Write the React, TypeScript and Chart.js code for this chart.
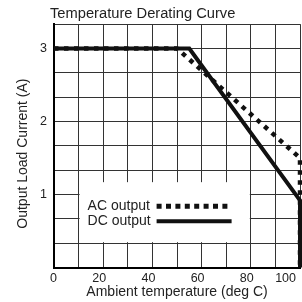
import React, { useEffect, useRef } from 'react';
import { Chart, registerables } from 'chart.js';

Chart.register(...registerables);

// ---- data ----
const chartTitle = 'Temperature Derating Curve';
const xTitle = 'Ambient temperature (deg C)';
const yTitle = 'Output Load Current (A)';

const acLabel = 'AC output';
const acTemp = [0, 50, 100, 100];
const acCurrent = [3, 3, 1.5, 0];

const dcLabel = 'DC output';
const dcTemp = [0, 55, 100, 100];
const dcCurrent = [3, 3, 0.92, 0];

const xMin = 0;
const xMax = 100;
const xGridStep = 10;
const xTickLabels = ['0', '20', '40', '60', '80', '100'];

const yMin = 0;
const yMax = 10 / 3;
const yGridStep = 1 / 3;
const yTickLabels = ['1', '2', '3'];

const FONT = "'Liberation Sans', Arial, sans-serif";
const INK = '#222';

const legendBox = {
  id: 'legendBox',
  afterLayout(chart: any) {
    const t = chart.titleBlock;
    if (t) {
      t.left -= 4;
      t.right -= 4;
    }
  },
  afterDatasetsDraw(chart: any) {
    const { ctx } = chart;
    const xs = chart.scales.x;
    const ys = chart.scales.y;
    const left = xs.getPixelForValue(10) + 1;
    const right = xs.getPixelForValue(80) - 1;
    const bottom = ys.getPixelForValue(yGridStep) - 1;
    const top = bottom - 60;
    ctx.save();
    ctx.fillStyle = '#fff';
    ctx.fillRect(left, top, right - left, bottom - top);
    [0, 1].forEach((i) => {
      const ds = chart.data.datasets[i];
      const cy = top + 24 + i * 15;
      ctx.fillStyle = INK;
      ctx.font = `14px ${FONT}`;
      ctx.textBaseline = 'middle';
      ctx.textAlign = 'left';
      ctx.fillText(ds.label, left + 8, cy);
      ctx.strokeStyle = ds.borderColor;
      ctx.lineWidth = i === 0 ? 5 : 4;
      ctx.lineCap = 'butt';
      ctx.setLineDash(i === 0 ? [5, 4.4] : []);
      ctx.beginPath();
      ctx.moveTo(left + 77, cy);
      ctx.lineTo(left + 152, cy);
      ctx.stroke();
    });
    ctx.restore();
  },
};

export default function App() {
  const ref = useRef<HTMLCanvasElement | null>(null);

  useEffect(() => {
    document.body.style.margin = '0';
    const canvas = ref.current;
    if (!canvas) return;
    const chart = new Chart(canvas, {
      type: 'line',
      data: {
        datasets: [
          {
            label: acLabel,
            data: acTemp.map((t, i) => ({ x: t, y: acCurrent[i] })),
            borderColor: '#111',
            borderWidth: 4.5,
            borderDash: [4.5, 5.5],
            borderCapStyle: 'butt',
            pointRadius: 0,
            tension: 0,
            fill: false,
            order: 2,
            clip: 6,
          },
          {
            label: dcLabel,
            data: dcTemp.map((t, i) => ({ x: t, y: dcCurrent[i] })),
            borderColor: '#111',
            borderWidth: 4,
            borderCapStyle: 'butt',
            borderJoinStyle: 'miter',
            pointRadius: 0,
            tension: 0,
            fill: false,
            order: 1,
            clip: 6,
          },
        ],
      },
      options: {
        responsive: false,
        animation: false,
        devicePixelRatio: 1,
        layout: { padding: { left: 0, right: 2, top: 0, bottom: 0 } },
        plugins: {
          legend: { display: false },
          tooltip: { enabled: false },
          title: {
            display: true,
            text: chartTitle,
            align: 'start',
            fullSize: false,
            color: INK,
            font: { family: FONT, size: 14.7, weight: 'normal', lineHeight: 1.2 },
            padding: { top: 5, bottom: 1.5 },
          },
        },
        scales: {
          x: {
            type: 'linear',
            min: xMin,
            max: xMax,
            border: { display: true, color: '#000', width: 2 },
            grid: { color: '#333', lineWidth: 1, drawTicks: false },
            afterFit: (scale: any) => {
              scale.paddingLeft = 0;
              scale.paddingRight = 0;
              scale.height = 34.5;
            },
            ticks: {
              stepSize: xGridStep,
              autoSkip: false,
              maxRotation: 0,
              align: 'inner',
              labelOffset: -4,
              padding: 5,
              color: INK,
              font: { family: FONT, size: 12.5, lineHeight: 1.0 },
              callback: (v: any) => {
                const n = Number(v);
                const s = String(Math.round(n));
                return xTickLabels.includes(s) && Math.abs(n - Math.round(n)) < 1e-6 ? s : '';
              },
            },
            title: {
              display: true,
              text: xTitle,
              color: INK,
              font: { family: FONT, size: 14, lineHeight: 1.0 },
              padding: { top: 0, bottom: 3 },
            },
          },
          y: {
            type: 'linear',
            min: yMin,
            max: yMax,
            border: { display: true, color: '#000', width: 2 },
            grid: { color: '#333', lineWidth: 1, drawTicks: false },
            afterBuildTicks: (scale: any) => {
              const ticks = [];
              for (let v = yMin; v <= yMax + 1e-9; v += yGridStep) ticks.push({ value: v });
              scale.ticks = ticks;
            },
            afterFit: (scale: any) => {
              scale.width = 54;
            },
            ticks: {
              autoSkip: false,
              padding: 7,
              color: INK,
              font: { family: FONT, size: 12.5, lineHeight: 1.0 },
              callback: (v: any) => {
                const n = Number(v);
                const r = Math.round(n);
                return Math.abs(n - r) < 1e-6 && yTickLabels.includes(String(r)) ? String(r) : '';
              },
            },
            title: {
              display: true,
              text: yTitle + '    ',
              color: INK,
              font: { family: FONT, size: 14, lineHeight: 1.0 },
              padding: { top: 16, bottom: 10 },
            },
          },
        },
      },
      plugins: [legendBox],
    } as any);
    return () => chart.destroy();
  }, []);

  return (
    <div style={{ position: 'relative', width: 302, height: 302 }}>
      <canvas ref={ref} width={302} height={302} style={{ display: 'block', width: 302, height: 302 }} />
    </div>
  );
}
